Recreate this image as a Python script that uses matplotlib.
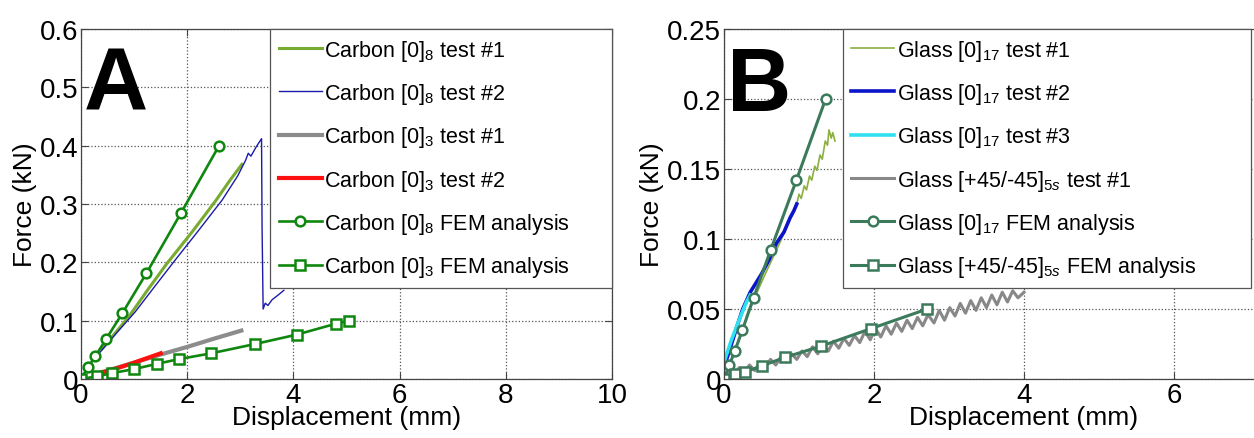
import matplotlib
matplotlib.use('Agg')
import matplotlib.pyplot as plt

plt.rcParams['font.family'] = ['Liberation Sans', 'DejaVu Sans']
plt.rcParams['mathtext.fontset'] = 'custom'
plt.rcParams['mathtext.rm'] = 'Liberation Sans'
plt.rcParams['mathtext.it'] = 'Liberation Sans:italic'
plt.rcParams['mathtext.bf'] = 'Liberation Sans:bold'

# ---------------- panel A: carbon ----------------
c8_t1_x = [0.40, 0.91, 1.25, 1.61, 2.10, 2.54, 2.80, 3.03]
c8_t1_y = [0.052, 0.108, 0.152, 0.197, 0.253, 0.306, 0.340, 0.368]

c8_t2_x = [0.35, 0.70, 1.02, 1.40, 1.74, 2.20, 2.66, 2.95, 3.10, 3.15, 3.20, 3.30,
           3.40, 3.41, 3.43, 3.47, 3.52, 3.60, 3.70, 3.82]
c8_t2_y = [0.045, 0.082, 0.115, 0.160, 0.200, 0.253, 0.307, 0.348, 0.375, 0.387, 0.382, 0.398,
           0.412, 0.260, 0.120, 0.130, 0.126, 0.136, 0.143, 0.152]

c3_t1_x = [0.40, 1.00, 1.50, 2.00, 2.50, 3.02]
c3_t1_y = [0.012, 0.028, 0.042, 0.055, 0.069, 0.083]

c3_t2_x = [0.40, 0.70, 1.00, 1.25, 1.50]
c3_t2_y = [0.011, 0.019, 0.028, 0.036, 0.044]

c8_fem_x = [0.0, 0.13, 0.27, 0.47, 0.78, 1.23, 1.88, 2.60]
c8_fem_y = [0.0, 0.020, 0.039, 0.068, 0.113, 0.181, 0.284, 0.400]

c3_fem_x = [0.0, 0.30, 0.58, 1.00, 1.43, 1.84, 2.45, 3.28, 4.06, 4.81, 5.05]
c3_fem_y = [0.0, 0.0045, 0.010, 0.017, 0.026, 0.034, 0.044, 0.060, 0.076, 0.095, 0.100]

# ---------------- panel B: glass ----------------
g_t1_x = [0.30, 0.55, 0.75, 0.97, 1.00, 1.03, 1.07, 1.10, 1.14, 1.17, 1.21, 1.24,
          1.28, 1.31, 1.35, 1.38, 1.40, 1.43, 1.45, 1.48]
g_t1_y = [0.045, 0.075, 0.098, 0.125, 0.132, 0.129, 0.138, 0.135, 0.145, 0.142, 0.152, 0.149,
          0.160, 0.157, 0.170, 0.167, 0.178, 0.172, 0.176, 0.170]

g_t2_x = [0.0, 0.10, 0.20, 0.25, 0.35, 0.50, 0.60, 0.70, 0.80, 0.88, 0.93, 0.97]
g_t2_y = [0.008, 0.025, 0.042, 0.050, 0.062, 0.075, 0.085, 0.097, 0.105, 0.115, 0.120, 0.125]

g_t3_x = [0.0, 0.10, 0.20, 0.30, 0.35]
g_t3_y = [0.012, 0.028, 0.042, 0.055, 0.060]

g45_t1_x = [0.00, 0.06, 0.13, 0.20, 0.27, 0.34, 0.41, 0.48, 0.55, 0.62, 0.69, 0.76,
            0.83, 0.90, 0.97, 1.04, 1.11, 1.18, 1.25, 1.32, 1.39, 1.46, 1.53, 1.60,
            1.67, 1.74, 1.81, 1.88, 1.95, 2.02, 2.09, 2.16, 2.23, 2.30, 2.37, 2.44,
            2.51, 2.58, 2.65, 2.72, 2.80, 2.87, 2.94, 3.01, 3.08, 3.15, 3.22, 3.29,
            3.36, 3.43, 3.50, 3.57, 3.64, 3.71, 3.78, 3.85, 3.92, 4.00]
g45_t1_y = [0.000, 0.006, 0.003, 0.008, 0.005, 0.010, 0.006, 0.012, 0.008, 0.014, 0.010, 0.016,
            0.012, 0.018, 0.014, 0.020, 0.016, 0.023, 0.018, 0.025, 0.020, 0.027, 0.022, 0.029,
            0.024, 0.031, 0.026, 0.034, 0.028, 0.036, 0.030, 0.038, 0.032, 0.040, 0.034, 0.042,
            0.036, 0.044, 0.038, 0.046, 0.040, 0.049, 0.042, 0.051, 0.045, 0.054, 0.047, 0.056,
            0.049, 0.058, 0.051, 0.060, 0.053, 0.062, 0.055, 0.063, 0.058, 0.062]

g_fem_x = [0.0, 0.07, 0.144, 0.245, 0.395, 0.62, 0.965, 1.355]
g_fem_y = [0.0, 0.0098, 0.0199, 0.035, 0.058, 0.0918, 0.142, 0.200]

g45_fem_x = [0.0, 0.144, 0.283, 0.50, 0.81, 1.29, 1.96, 2.71]
g45_fem_y = [0.0, 0.0033, 0.0051, 0.0093, 0.0154, 0.0234, 0.036, 0.050]

W, H = 1254, 439
fig = plt.figure(figsize=(W / 100, H / 100), dpi=100)

axA = fig.add_axes([81 / W, 59 / H, 531 / W, 350 / H])
axB = fig.add_axes([724 / W, 59 / H, 600 / W, 350 / H])

green = '#0f870f'
dkgreen = '#3b7a5a'

axA.plot(c8_t1_x, c8_t1_y, color='#77ac30', lw=2.2, label=r'Carbon [0]$_{8}$ test #1')
axA.plot(c8_t2_x, c8_t2_y, color='#1a1aaa', lw=1.0, label=r'Carbon [0]$_{8}$ test #2')
axA.plot(c3_t1_x, c3_t1_y, color='#8c8c8c', lw=3.0, label=r'Carbon [0]$_{3}$ test #1')
axA.plot(c3_t2_x, c3_t2_y, color='#ff1010', lw=3.0, label=r'Carbon [0]$_{3}$ test #2')
axA.plot(c8_fem_x, c8_fem_y, color=green, lw=1.9, marker='o', ms=7, mfc='white',
         mec=green, mew=1.8, label=r'Carbon [0]$_{8}$ FEM analysis')
axA.plot(c3_fem_x, c3_fem_y, color=green, lw=1.9, marker='s', ms=7.5, mfc='white',
         mec=green, mew=1.8, label=r'Carbon [0]$_{3}$ FEM analysis')

axB.plot(g_t1_x, g_t1_y, color='#8cb040', lw=1.2, label=r'Glass [0]$_{17}$ test #1')
axB.plot(g_t2_x, g_t2_y, color='#0a14c8', lw=2.6, label=r'Glass [0]$_{17}$ test #2')
axB.plot(g_t3_x, g_t3_y, color='#30e0f0', lw=2.6, label=r'Glass [0]$_{17}$ test #3')
axB.plot(g45_t1_x, g45_t1_y, color='#888888', lw=2.2, label=r'Glass [+45/-45]$_{5s}$ test #1')
axB.plot(g_fem_x, g_fem_y, color=dkgreen, lw=2.2, marker='o', ms=7, mfc='white',
         mec=dkgreen, mew=1.8, label=r'Glass [0]$_{17}$ FEM analysis')
axB.plot(g45_fem_x, g45_fem_y, color=dkgreen, lw=2.2, marker='s', ms=7.5, mfc='white',
         mec=dkgreen, mew=1.8, label=r'Glass [+45/-45]$_{5s}$ FEM analysis')

axA.set_xlim(0, 10)
axA.set_ylim(0, 0.6)
axA.set_xticks([0, 2, 4, 6, 8, 10])
axA.set_yticks([0, 0.1, 0.2, 0.3, 0.4, 0.5, 0.6])
axA.set_yticklabels(['0', '0.1', '0.2', '0.3', '0.4', '0.5', '0.6'])

axB.set_xlim(0, 8)
axB.set_ylim(0, 0.25)
axB.set_xticks([0, 2, 4, 6])
axB.set_yticks([0, 0.05, 0.1, 0.15, 0.2, 0.25])
axB.set_yticklabels(['0', '0.05', '0.1', '0.15', '0.2', '0.25'])

for ax, letter, leg_x0, leg_x1, leg_y0 in [(axA, 'A', 0.356, 1.0, 0.255),
                                           (axB, 'B', 0.198, 0.878, 0.262)]:
    ax.grid(True, linestyle=':', color='#555555', lw=0.9)
    ax.set_axisbelow(True)
    ax.tick_params(direction='in', top=True, right=True, labelsize=20, pad=2,
                   length=5, width=0.8, color='#444444')
    for s in ax.spines.values():
        s.set_color('#444444')
        s.set_linewidth(0.9)
    ax.set_xlabel('Displacement (mm)', fontsize=19, labelpad=-2)
    ax.set_ylabel('Force (kN)', fontsize=19, labelpad=2)
    ax.text(0.005, 0.955, letter, transform=ax.transAxes, fontsize=64,
            fontweight='bold', va='top', ha='left')
    leg = ax.legend(loc='upper left', bbox_to_anchor=(leg_x0, leg_y0, leg_x1 - leg_x0, 1 - leg_y0),
                    mode='expand', fontsize=15.5, frameon=True, fancybox=False,
                    edgecolor='#555555', framealpha=1, borderaxespad=0,
                    handlelength=2.0, handletextpad=0.1, labelspacing=0.85,
                    borderpad=0.4)
    leg.get_frame().set_linewidth(0.9)

fig.savefig('out.png', dpi=100)
